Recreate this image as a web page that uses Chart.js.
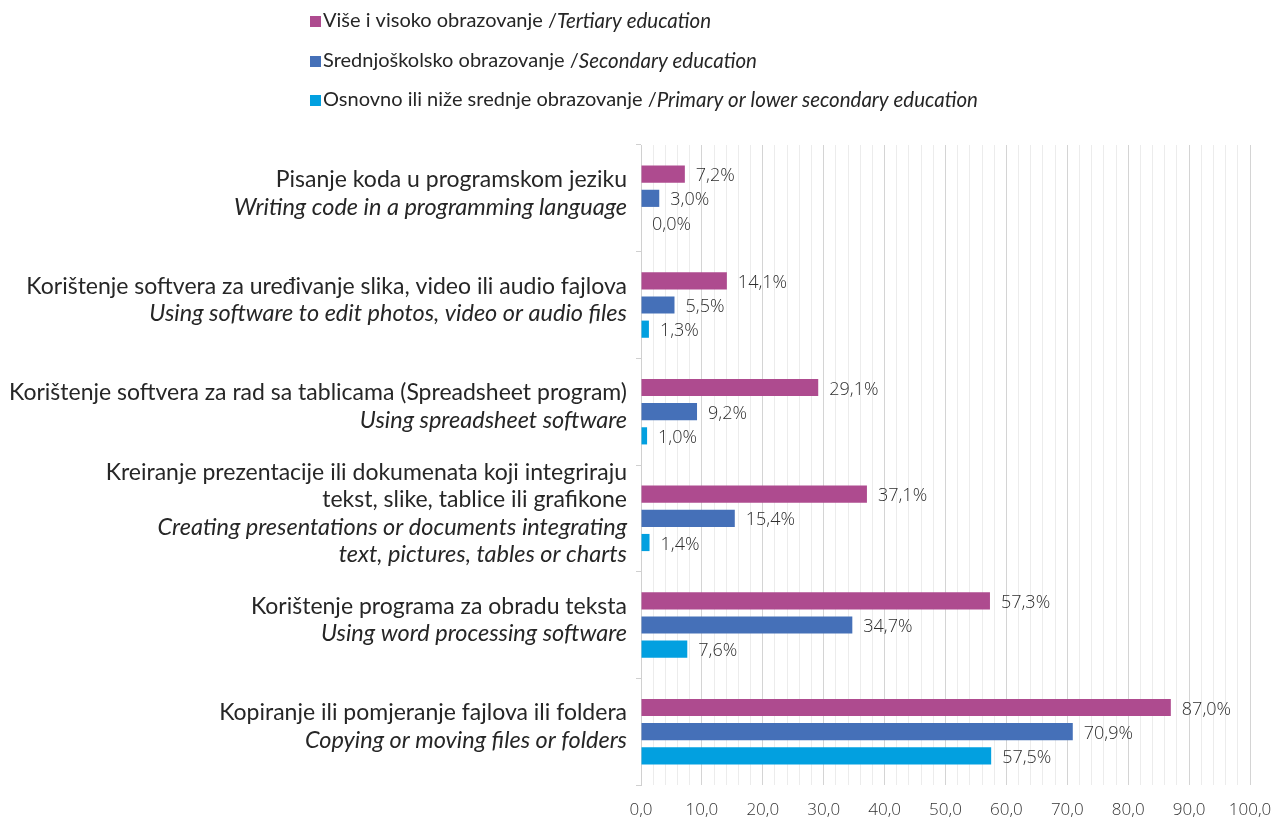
<!DOCTYPE html>
<html>
<head>
<meta charset="utf-8">
<script src="https://cdn.jsdelivr.net/npm/chart.js@4.4.1/dist/chart.umd.min.js"></script>
<style>
html,body{margin:0;padding:0;background:#fff;}
#wrap{position:relative;width:1274px;height:820px;}
</style>
</head>
<body>
<div id="wrap"><canvas id="c" width="1274" height="820"></canvas></div>
<script>
// ---- data ----
const categoriesLocal = [
  ['Pisanje koda u programskom jeziku'],
  ['Korištenje softvera za uređivanje slika, video ili audio fajlova'],
  ['Korištenje softvera za rad sa tablicama (Spreadsheet program)'],
  ['Kreiranje prezentacije ili dokumenata koji integriraju', 'tekst, slike, tablice ili grafikone'],
  ['Korištenje programa za obradu teksta'],
  ['Kopiranje ili pomjeranje fajlova ili foldera']
];
const categoriesEnglish = [
  ['Writing code in a programming language'],
  ['Using software to edit photos, video or audio files'],
  ['Using spreadsheet software'],
  ['Creating presentations or documents integrating', 'text, pictures, tables or charts'],
  ['Using word processing software'],
  ['Copying or moving files or folders']
];
const seriesNamesLocal = ['Više i visoko obrazovanje /', 'Srednjoškolsko obrazovanje /', 'Osnovno ili niže srednje obrazovanje /'];
const seriesNamesEnglish = ['Tertiary education', 'Secondary education', 'Primary or lower secondary education'];
const tertiary  = [7.2, 14.1, 29.1, 37.1, 57.3, 87.0];
const secondary = [3.0, 5.5, 9.2, 15.4, 34.7, 70.9];
const primary   = [0.0, 1.3, 1.0, 1.4, 7.6, 57.5];
const xTickLabels = ['0,0','10,0','20,0','30,0','40,0','50,0','60,0','70,0','80,0','90,0','100,0'];

const colors = ['#ae4b8f', '#4570b8', '#02a0e0'];
const FONT = 'Lato, "Open Sans", "Noto Sans", sans-serif';
const TEXT = '#262626';

// ---- plugins ----
const yLabelPlugin = {
  id: 'yLabels',
  afterDraw(chart) {
    const ctx = chart.ctx;
    const y = chart.scales.y;
    ctx.save();
    ctx.fillStyle = TEXT;
    ctx.textAlign = 'right';
    ctx.textBaseline = 'middle';
    const lh = 27.5;
    const xr = 627;
    categoriesLocal.forEach((loc, i) => {
      const lines = loc.map(t => ({t, it:false})).concat(categoriesEnglish[i].map(t => ({t, it:true})));
      const cy = y.getPixelForValue(i) - 5;
      const start = cy - (lines.length - 1) * lh / 2;
      lines.forEach((ln, k) => {
        ctx.font = (ln.it ? 'italic 23.5px ' : '23px ') + FONT;
        ctx.fillText(ln.t, xr, start + k * lh);
      });
    });
    ctx.restore();
  }
};

const legendPlugin = {
  id: 'customLegend',
  afterDraw(chart) {
    const ctx = chart.ctx;
    ctx.save();
    ctx.textBaseline = 'middle';
    ctx.textAlign = 'left';
    const rows = [21, 61, 100];
    seriesNamesLocal.forEach((n, i) => {
      const yy = rows[i];
      ctx.fillStyle = colors[i];
      ctx.fillRect(310, yy - 5, 11, 11);
      ctx.fillStyle = TEXT;
      ctx.font = '20px ' + FONT;
      ctx.fillText(n, 323, yy);
      const w = ctx.measureText(n).width;
      ctx.font = 'italic 20.5px ' + FONT;
      ctx.fillText(seriesNamesEnglish[i], 323 + w, yy);
    });
    ctx.restore();
  }
};

const valueLabelPlugin = {
  id: 'valueLabels',
  afterDatasetsDraw(chart) {
    const ctx = chart.ctx;
    ctx.save();
    ctx.fillStyle = '#2e2e2e';
    ctx.font = '300 18px "Open Sans", ' + FONT;
    ctx.textAlign = 'left';
    ctx.textBaseline = 'middle';
    chart.data.datasets.forEach((ds, di) => {
      const meta = chart.getDatasetMeta(di);
      meta.data.forEach((bar, i) => {
        const v = ds.data[i];
        ctx.fillText(v.toFixed(1).replace('.', ',') + '%', bar.x + 11, bar.y + 2);
      });
    });
    ctx.restore();
  }
};

new Chart(document.getElementById('c'), {
  type: 'bar',
  data: {
    labels: categoriesEnglish.map(a => a.join(' ')),
    datasets: [
      { label: seriesNamesEnglish[0], data: tertiary,  backgroundColor: colors[0] },
      { label: seriesNamesEnglish[1], data: secondary, backgroundColor: colors[1] },
      { label: seriesNamesEnglish[2], data: primary,   backgroundColor: colors[2] }
    ]
  },
  options: {
    indexAxis: 'y',
    responsive: false,
    animation: false,
    devicePixelRatio: 1,
    layout: { padding: { top: 145, right: 24, left: 0, bottom: 0 } },
    datasets: { bar: { categoryPercentage: 0.68, barPercentage: 0.71, borderWidth: 0 } },
    plugins: { legend: { display: false }, tooltip: { enabled: false } },
    scales: {
      x: {
        min: 0, max: 100,
        ticks: {
          stepSize: 2, autoSkip: false, maxRotation: 0,
          color: '#333333',
          font: { family: '"Open Sans", ' + FONT, size: 17, weight: 300 },
          padding: 15,
          callback: (v) => (v % 10 === 0 ? xTickLabels[v / 10] : '')
        },
        grid: {
          drawTicks: false,
          color: (c) => (c.tick && c.tick.value % 10 === 0 ? '#d4d4d4' : '#ececec'),
          lineWidth: 1
        },
        border: { display: false },
        afterFit: (s) => { s.height = 35; s.paddingRight = 0; s.paddingLeft = 0; }
      },
      y: {
        ticks: { display: false },
        grid: { display: true, drawOnChartArea: false, drawTicks: true, tickLength: 5, color: '#d0d0d0', offset: true },
        border: { display: true, color: '#d0d0d0' },
        afterFit: (s) => { s.width = 641; }
      }
    }
  },
  plugins: [yLabelPlugin, legendPlugin, valueLabelPlugin]
});
</script>
</body>
</html>
